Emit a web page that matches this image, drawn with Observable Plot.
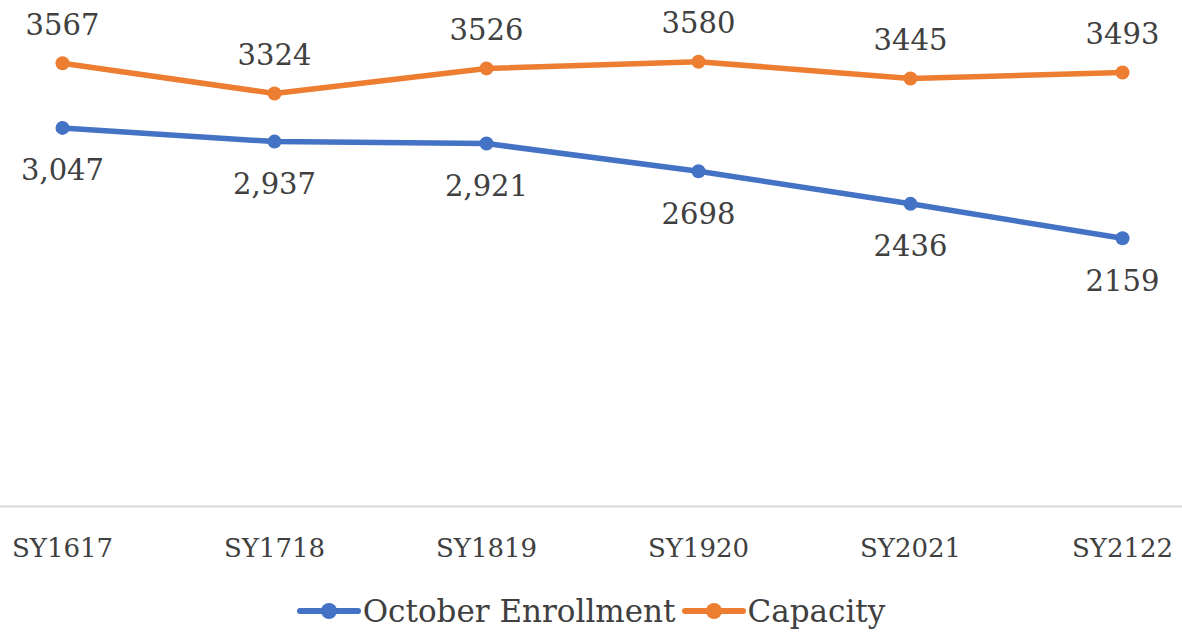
<!DOCTYPE html>
<html>
<head>
<meta charset="utf-8">
<script src="https://cdn.jsdelivr.net/npm/d3@7"></script>
<script src="https://cdn.jsdelivr.net/npm/@observablehq/plot@0.6"></script>
<style>
  html, body { margin: 0; padding: 0; background: #fff; }
  body { width: 1182px; height: 635px; overflow: hidden; font-family: "DejaVu Serif", serif; color: #404040; }
  #legend { display: flex; justify-content: center; align-items: center; height: 50px; font-size: 31px; gap: 6px; padding-left: 0px; margin-top: -4px; }
  .item { display: flex; align-items: center; gap: 2px; }
</style>
</head>
<body>
<div id="chart"></div>
<div id="legend"></div>
<script>
const years = ["SY1617", "SY1718", "SY1819", "SY1920", "SY2021", "SY2122"];
const enrollment = [3047, 2937, 2921, 2698, 2436, 2159];
const enrollmentLabels = ["3,047", "2,937", "2,921", "2698", "2436", "2159"];
const capacity = [3567, 3324, 3526, 3580, 3445, 3493];
const capacityLabels = ["3567", "3324", "3526", "3580", "3445", "3493"];
const seriesNames = ["October Enrollment", "Capacity"];
const colors = ["#4472C4", "#ED7D31"];

const data = [];
years.forEach((y, i) => {
  data.push({year: y, value: enrollment[i], label: enrollmentLabels[i], series: seriesNames[0]});
  data.push({year: y, value: capacity[i], label: capacityLabels[i], series: seriesNames[1]});
});
const enr = data.filter(d => d.series === seriesNames[0]);
const cap = data.filter(d => d.series === seriesNames[1]);

const chart = Plot.plot({
  width: 1182,
  height: 590,
  marginLeft: 62,
  marginRight: 60,
  marginTop: 9,
  marginBottom: 84,
  style: {fontFamily: "DejaVu Serif, serif", color: "#404040", background: "#fff"},
  x: {type: "point", domain: years, padding: 0, label: null},
  y: {domain: [0, 4000], axis: null},
  color: {domain: seriesNames, range: colors},
  marks: [
    Plot.ruleY([0], {stroke: "#d9d9d9", strokeWidth: 2, insetLeft: -62, insetRight: -60}),
    Plot.axisX({tickSize: 0, tickPadding: 32, fontSize: 26, fill: "#404040", label: null}),
    Plot.line(data, {x: "year", y: "value", z: "series", stroke: "series", strokeWidth: 5.5, strokeLinejoin: "round", strokeLinecap: "round"}),
    Plot.dot(data, {x: "year", y: "value", fill: "series", r: 7}),
    Plot.text(cap, {x: "year", y: "value", text: "label", dy: -38, fontSize: 29, fill: "#404040"}),
    Plot.text(enr, {x: "year", y: "value", text: "label", dy: 43, fontSize: 29, fill: "#404040"})
  ]
});
document.getElementById("chart").appendChild(chart);

const legend = document.getElementById("legend");
seriesNames.forEach((name, i) => {
  const item = document.createElement("div");
  item.className = "item";
  item.innerHTML = `<svg width="64" height="22"><line x1="3" y1="11" x2="61" y2="11" stroke="${colors[i]}" stroke-width="6" stroke-linecap="round"/><circle cx="32" cy="11" r="8" fill="${colors[i]}"/></svg><span>${name}</span>`;
  legend.appendChild(item);
});
</script>
</body>
</html>
